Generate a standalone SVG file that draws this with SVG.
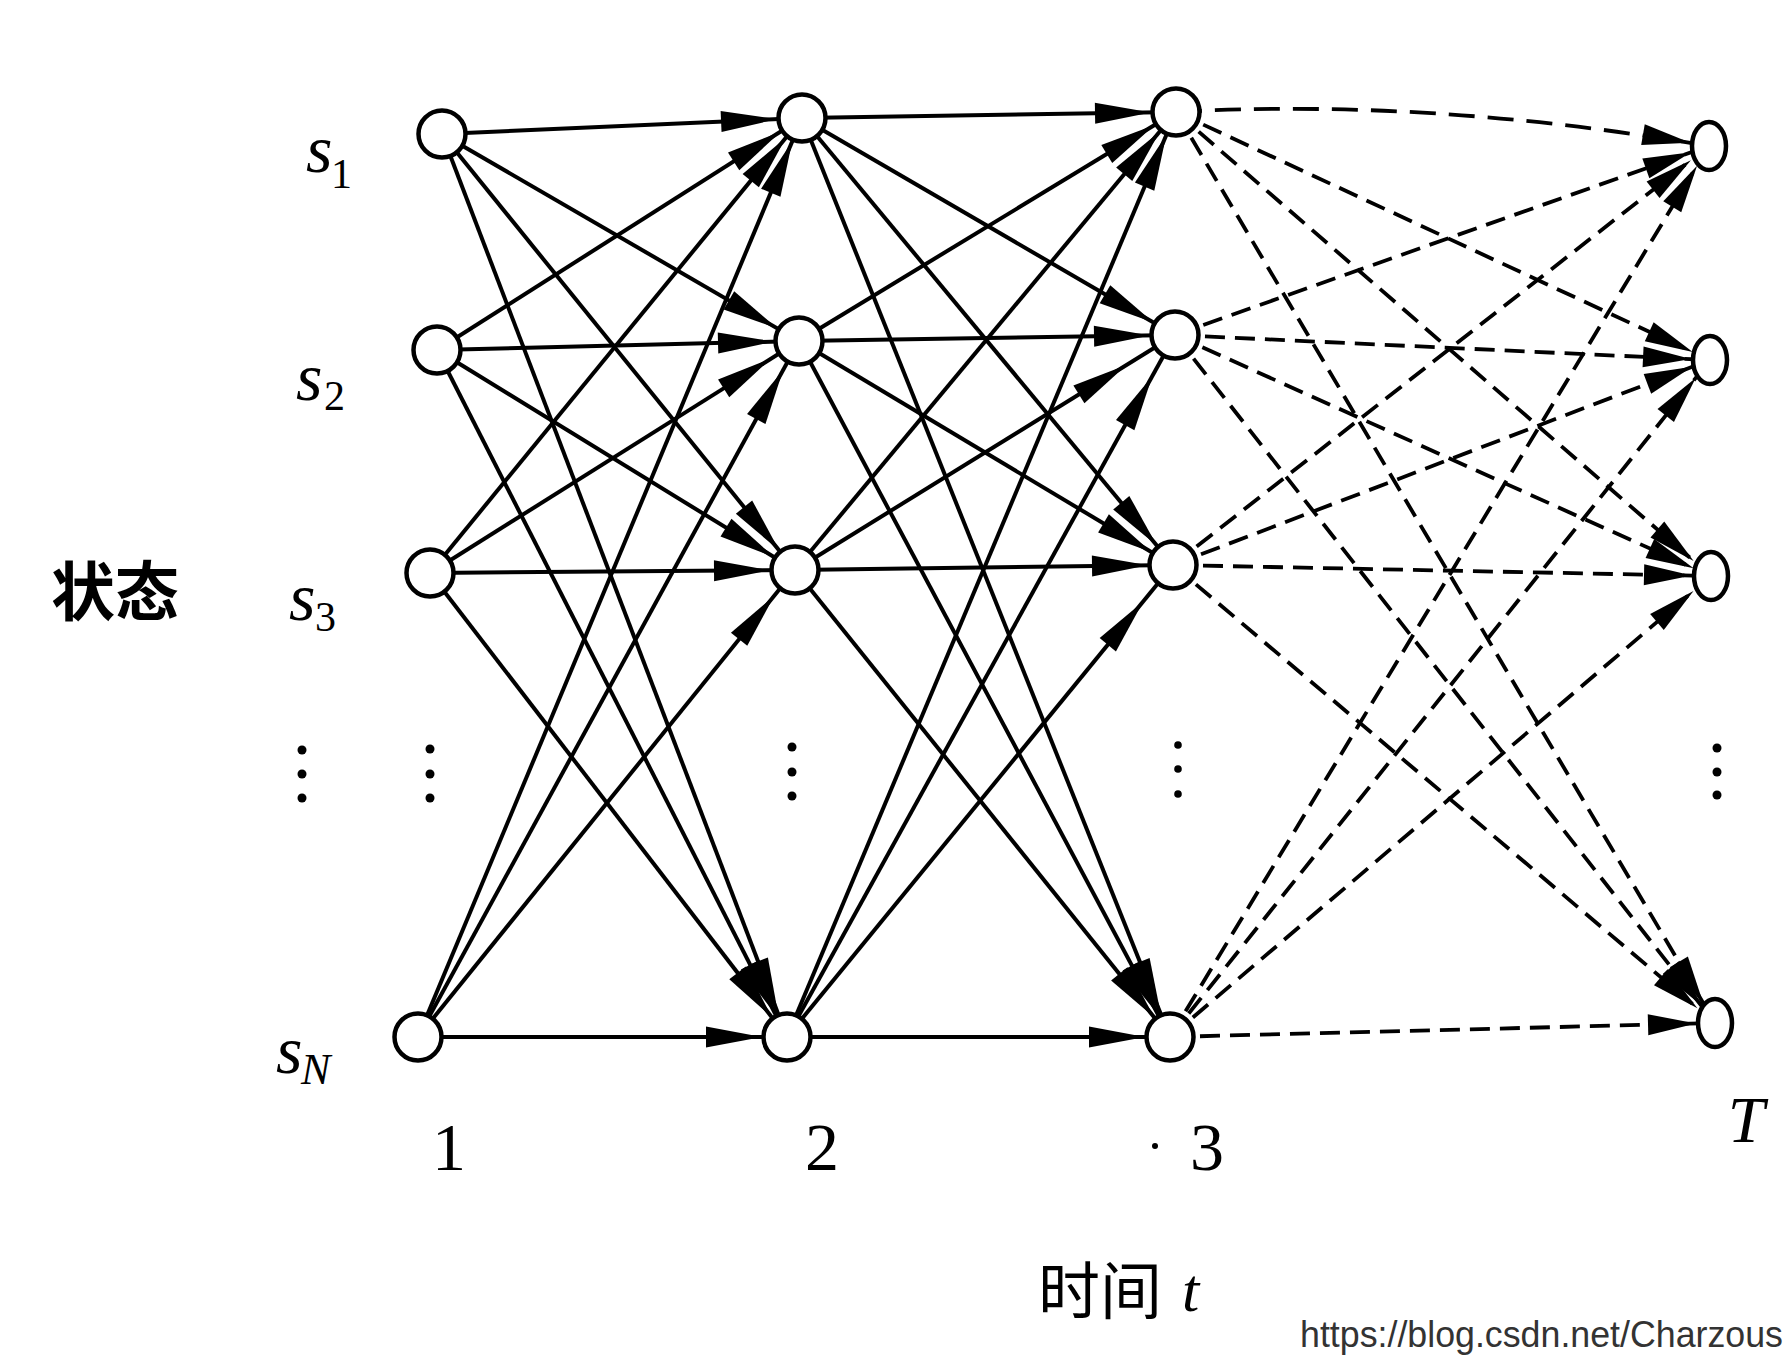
<svg xmlns="http://www.w3.org/2000/svg" width="1787" height="1367" viewBox="0 0 1787 1367">
<defs>
<style>
.e{stroke:#000;stroke-width:4;fill:none}
.d{stroke:#000;stroke-width:3.8;fill:none;stroke-dasharray:20 10}
.a{marker-end:url(#a)}
.a2{marker-end:url(#a2)}
.a3{marker-end:url(#a3)}
.a4{marker-end:url(#a4)}
.dh{marker-end:url(#dh)}
.dd{marker-end:url(#dd)}
.n{fill:#fff;stroke:#000;stroke-width:4.5}
.dot{fill:#000}
.it{font-family:"Liberation Serif","Times New Roman",serif;font-style:italic;fill:#000}
.rm{font-family:"Liberation Serif","Times New Roman",serif;fill:#000}
.cjk{font-family:"Noto Sans CJK SC","Noto Sans",sans-serif;fill:#000}
.url{font-family:"Liberation Sans",Arial,sans-serif;fill:#333}
</style>
<marker id="a" markerUnits="userSpaceOnUse" markerWidth="130" markerHeight="30" viewBox="0 -15 130 30" refX="81" refY="0" orient="auto" overflow="visible"><path d="M0,-10.5 L56,0 L0,10.5 z" fill="#000"/></marker>
<marker id="a2" markerUnits="userSpaceOnUse" markerWidth="130" markerHeight="30" viewBox="0 -15 130 30" refX="89" refY="0" orient="auto" overflow="visible"><path d="M0,-10.5 L56,0 L0,10.5 z" fill="#000"/></marker>
<marker id="a3" markerUnits="userSpaceOnUse" markerWidth="130" markerHeight="30" viewBox="0 -15 130 30" refX="103" refY="0" orient="auto" overflow="visible"><path d="M0,-10.5 L56,0 L0,10.5 z" fill="#000"/></marker>
<marker id="a4" markerUnits="userSpaceOnUse" markerWidth="130" markerHeight="30" viewBox="0 -15 130 30" refX="113" refY="0" orient="auto" overflow="visible"><path d="M0,-10.5 L56,0 L0,10.5 z" fill="#000"/></marker>
<marker id="dh" markerUnits="userSpaceOnUse" markerWidth="130" markerHeight="30" viewBox="0 -15 130 30" refX="67" refY="0" orient="auto" overflow="visible"><path d="M0,-10.5 L48,0 L0,10.5 z" fill="#000"/></marker>
<marker id="dd" markerUnits="userSpaceOnUse" markerWidth="130" markerHeight="30" viewBox="0 -15 130 30" refX="71" refY="0" orient="auto" overflow="visible"><path d="M0,-10.5 L48,0 L0,10.5 z" fill="#000"/></marker>
</defs>
<rect x="0" y="0" width="1787" height="1367" fill="#fff"/>

<g id="connectors">
<line class="e a" x1="442" y1="134" x2="802" y2="118"/>
<line class="e a" x1="442" y1="134" x2="799" y2="341"/>
<line class="e a" x1="442" y1="134" x2="795" y2="570"/>
<line class="e a" x1="442" y1="134" x2="787" y2="1037"/>
<line class="e a" x1="437" y1="350" x2="802" y2="118"/>
<line class="e a" x1="437" y1="350" x2="799" y2="341"/>
<line class="e a" x1="437" y1="350" x2="795" y2="570"/>
<line class="e a" x1="437" y1="350" x2="787" y2="1037"/>
<line class="e a" x1="430" y1="573" x2="802" y2="118"/>
<line class="e a2" x1="430" y1="573" x2="799" y2="341"/>
<line class="e a" x1="430" y1="573" x2="795" y2="570"/>
<line class="e a" x1="430" y1="573" x2="787" y2="1037"/>
<line class="e a" x1="418" y1="1037" x2="802" y2="118"/>
<line class="e a2" x1="418" y1="1037" x2="799" y2="341"/>
<line class="e a2" x1="418" y1="1037" x2="795" y2="570"/>
<line class="e a" x1="418" y1="1037" x2="787" y2="1037"/>

<line class="e a" x1="802" y1="118" x2="1176" y2="112"/>
<line class="e a" x1="802" y1="118" x2="1175" y2="335"/>
<line class="e a" x1="802" y1="118" x2="1173" y2="565"/>
<line class="e a" x1="802" y1="118" x2="1170" y2="1037"/>
<line class="e a" x1="799" y1="341" x2="1176" y2="112"/>
<line class="e a" x1="799" y1="341" x2="1175" y2="335"/>
<line class="e a" x1="799" y1="341" x2="1173" y2="565"/>
<line class="e a" x1="799" y1="341" x2="1170" y2="1037"/>
<line class="e a" x1="795" y1="570" x2="1176" y2="112"/>
<line class="e a4" x1="795" y1="570" x2="1175" y2="335"/>
<line class="e a" x1="795" y1="570" x2="1173" y2="565"/>
<line class="e a" x1="795" y1="570" x2="1170" y2="1037"/>
<line class="e a" x1="787" y1="1037" x2="1176" y2="112"/>
<line class="e a3" x1="787" y1="1037" x2="1175" y2="335"/>
<line class="e a3" x1="787" y1="1037" x2="1173" y2="565"/>
<line class="e a" x1="787" y1="1037" x2="1170" y2="1037"/>

<path class="d dh" style="stroke-dasharray:26 13" d="M1176,112 Q1430,98 1709,146"/>
<line class="d dh" x1="1176" y1="112" x2="1710" y2="360"/>
<line class="d dd" x1="1176" y1="112" x2="1711" y2="576"/>
<line class="d dd" x1="1176" y1="112" x2="1715" y2="1023"/>
<line class="d dh" x1="1175" y1="335" x2="1709" y2="146"/>
<line class="d dh" x1="1175" y1="335" x2="1710" y2="360"/>
<line class="d dh" x1="1175" y1="335" x2="1711" y2="576"/>
<line class="d dd" x1="1175" y1="335" x2="1715" y2="1023"/>
<line class="d dd" x1="1173" y1="565" x2="1709" y2="146"/>
<line class="d dh" x1="1173" y1="565" x2="1710" y2="360"/>
<line class="d dh" x1="1173" y1="565" x2="1711" y2="576"/>
<line class="d dd" x1="1173" y1="565" x2="1715" y2="1023"/>
<line class="d dd" x1="1170" y1="1037" x2="1709" y2="146"/>
<line class="d dd" x1="1170" y1="1037" x2="1710" y2="360"/>
<line class="d dd" x1="1170" y1="1037" x2="1711" y2="576"/>
<line class="d dh" x1="1170" y1="1037" x2="1715" y2="1023"/>
</g>

<g id="n1-1"><circle class="n" cx="442" cy="134" r="23.5"/></g>
<g id="n1-2"><circle class="n" cx="437" cy="350" r="23.5"/></g>
<g id="n1-3"><circle class="n" cx="430" cy="573" r="23.5"/></g>
<g id="n1-N"><circle class="n" cx="418" cy="1037" r="23.5"/></g>
<g id="n2-1"><circle class="n" cx="802" cy="118" r="23.5"/></g>
<g id="n2-2"><circle class="n" cx="799" cy="341" r="23.5"/></g>
<g id="n2-3"><circle class="n" cx="795" cy="570" r="23.5"/></g>
<g id="n2-N"><circle class="n" cx="787" cy="1037" r="23.5"/></g>
<g id="n3-1"><circle class="n" cx="1176" cy="112" r="23.5"/></g>
<g id="n3-2"><circle class="n" cx="1175" cy="335" r="23.5"/></g>
<g id="n3-3"><circle class="n" cx="1173" cy="565" r="23.5"/></g>
<g id="n3-N"><circle class="n" cx="1170" cy="1037" r="23.5"/></g>
<g id="nT-1"><ellipse class="n" cx="1709" cy="146" rx="17" ry="24"/></g>
<g id="nT-2"><ellipse class="n" cx="1710" cy="360" rx="17" ry="24"/></g>
<g id="nT-3"><ellipse class="n" cx="1711" cy="576" rx="17" ry="24"/></g>
<g id="nT-N"><ellipse class="n" cx="1715" cy="1023" rx="17" ry="24"/></g>

<g id="ellipsis">
<circle class="dot" cx="302" cy="750" r="4.5"/><circle class="dot" cx="302" cy="774" r="4.5"/><circle class="dot" cx="302" cy="798" r="4.5"/>
<circle class="dot" cx="430" cy="749" r="4.5"/><circle class="dot" cx="430" cy="774" r="4.5"/><circle class="dot" cx="430" cy="798" r="4.5"/>
<circle class="dot" cx="792" cy="747" r="4.5"/><circle class="dot" cx="792" cy="772" r="4.5"/><circle class="dot" cx="792" cy="796" r="4.5"/>
<circle class="dot" cx="1178" cy="745" r="3.8"/><circle class="dot" cx="1178" cy="769" r="3.8"/><circle class="dot" cx="1178" cy="794" r="3.8"/>
<circle class="dot" cx="1717" cy="748" r="4.5"/><circle class="dot" cx="1717" cy="772" r="4.5"/><circle class="dot" cx="1717" cy="795" r="4.5"/>
<circle class="dot" cx="1155" cy="1146" r="3"/>
</g>

<g id="labels">
<text class="it" x="306" y="172" font-size="68">s</text><text class="rm" x="331" y="188" font-size="42">1</text>
<text class="it" x="296" y="400" font-size="68">s</text><text class="rm" x="324" y="410" font-size="42">2</text>
<text class="it" x="289" y="620" font-size="68">s</text><text class="rm" x="315" y="631" font-size="42">3</text>
<text class="it" x="276" y="1073" font-size="68">s</text><text class="it" x="301" y="1084" font-size="44">N</text>
<text class="cjk" x="51" y="615" font-size="64" font-weight="700">状态</text>
<text class="rm" x="449" y="1170" font-size="68" text-anchor="middle">1</text>
<text class="rm" x="822" y="1170" font-size="68" text-anchor="middle">2</text>
<text class="rm" x="1207" y="1170" font-size="68" text-anchor="middle">3</text>
<text class="it" x="1746" y="1142" font-size="66" text-anchor="middle">T</text>
<text class="cjk" x="1038" y="1314" font-size="62">时间</text>
<text class="it" x="1182" y="1311" font-size="62">t</text>
<text class="url" x="1300" y="1347" font-size="36" textLength="483" lengthAdjust="spacingAndGlyphs">https://blog.csdn.net/Charzous</text>
</g>
</svg>
